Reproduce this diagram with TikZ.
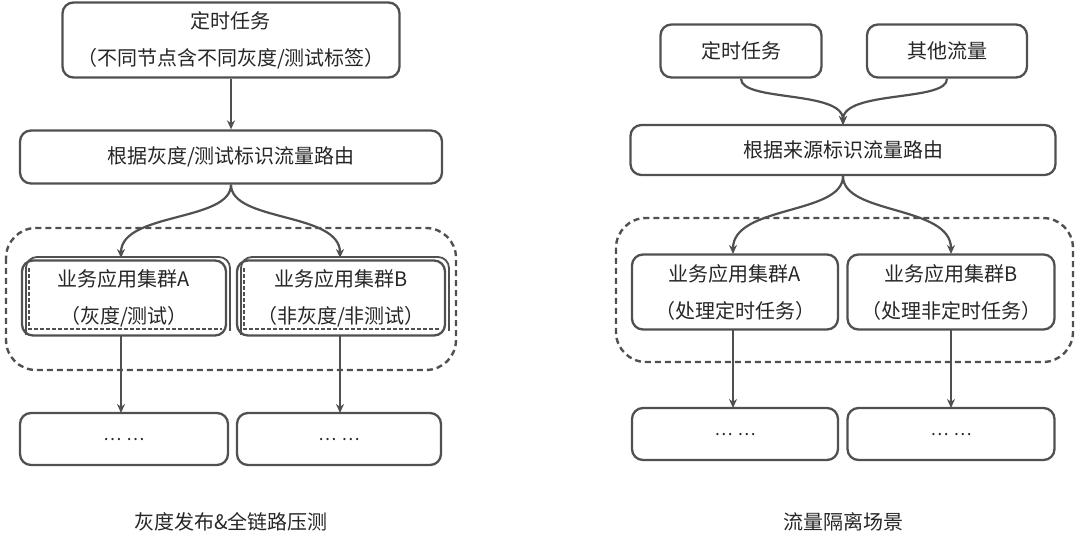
\documentclass[tikz,border=0pt]{standalone}
\usepackage{fontspec}
\setmainfont{Noto Sans CJK SC}
\usetikzlibrary{arrows.meta}
\definecolor{ln}{HTML}{505050}
\definecolor{tx}{HTML}{262626}
\newcommand{\dotsdots}{\raisebox{-4pt}{\fontsize{17}{20}\selectfont…\hspace{5pt}…}}
\tikzset{
  box/.style={draw=ln, line width=2.3pt, rounded corners=11pt, text=tx, font=\fontsize{20}{37}\selectfont, align=center, inner sep=0pt},
  conn/.style={draw=ln, line width=2.2pt, -{Stealth[length=9pt,width=8pt]}},
  grp/.style={draw=ln, line width=2.4pt, dash pattern=on 6pt off 4pt, rounded corners=30pt},
  captext/.style={text=tx, font=\fontsize{20}{24}\selectfont}
}
\begin{document}
\begin{tikzpicture}[x=1pt,y=-1pt]
\useasboundingbox (0,0) rectangle (1080,548);
% ===== Left panel =====
\node[box, minimum width=337pt, minimum height=75pt] (lt) at (231,40) {定时任务\\（不同节点含不同灰度/测试标签）};
\node[box, minimum width=422pt, minimum height=53pt] (lr) at (231,157) {根据灰度/测试标识流量路由};
\draw[grp] (6,228) rectangle (456,370);
% cluster A (double)
\node[box, minimum width=204pt, minimum height=75pt] (la) at (124,298) {业务应用集群A\\（灰度/测试）};
\draw[draw=ln, line width=1.8pt, rounded corners=11pt] (26,335) -- (26,257) -- (230,257) -- (230,331);
\draw[draw=ln, line width=1.5pt, dash pattern=on 4pt off 2pt] (29,268) -- (29,329) -- (222,329);
% cluster B (double)
\node[box, minimum width=208pt, minimum height=75pt] (lb) at (341,298) {业务应用集群B\\（非灰度/非测试）};
\draw[draw=ln, line width=1.8pt, rounded corners=11pt] (241,335) -- (241,257) -- (449,257) -- (449,331);
\draw[draw=ln, line width=1.5pt, dash pattern=on 4pt off 2pt] (244,268) -- (244,329) -- (440,329);
\node[box, minimum width=208pt, minimum height=52pt] (ld1) at (124,439) {\dotsdots};
\node[box, minimum width=204pt, minimum height=52pt] (ld2) at (339,439) {\dotsdots};
\coordinate (la0) at (121,336);
\coordinate (la1) at (121,413);
\coordinate (lb0) at (340,336);
\coordinate (lb1) at (340,413);
\draw[conn] (lt.south) -- (lr.north);
\draw[conn] (lr.south) .. controls (231,222) and (121,212) .. (121,258);
\draw[conn] (lr.south) .. controls (231,222) and (340,212) .. (340,258);
\draw[conn] (la0) -- (la1);
\draw[conn] (lb0) -- (lb1);
\node[captext] (lcap) at (231,522) {灰度发布\&全链路压测};
% ===== Right panel =====
\node[box, minimum width=161pt, minimum height=53pt] (rt1) at (741,51) {定时任务};
\node[box, minimum width=160pt, minimum height=53pt] (rt2) at (947,51) {其他流量};
\node[box, minimum width=425pt, minimum height=50pt] (rr) at (843,150) {根据来源标识流量路由};
\draw[grp] (616,218) rectangle (1073,362);
\node[box, minimum width=206pt, minimum height=75pt] (ra) at (735,292) {业务应用集群A\\（处理定时任务）};
\node[box, minimum width=207pt, minimum height=75pt] (rb) at (951,292) {业务应用集群B\\（处理非定时任务）};
\node[box, minimum width=206pt, minimum height=52pt] (rd1) at (735,434) {\dotsdots};
\node[box, minimum width=207pt, minimum height=52pt] (rd2) at (951,434) {\dotsdots};
\coordinate (ra0) at (733,330);
\coordinate (ra1) at (733,408);
\coordinate (rb0) at (951,330);
\coordinate (rb1) at (951,408);
\draw[conn] (rt1.south) .. controls (741,102) and (843,90) .. (843,125);
\draw[conn] (rt2.south) .. controls (948,102) and (843,90) .. (843,125);
\draw[conn] (rr.south) .. controls (843,215) and (733,205) .. (733,254);
\draw[conn] (rr.south) .. controls (843,215) and (951,205) .. (951,254);
\draw[conn] (ra0) -- (ra1);
\draw[conn] (rb0) -- (rb1);
\node[captext] (rcap) at (843,522) {流量隔离场景};
\end{tikzpicture}
\end{document}
